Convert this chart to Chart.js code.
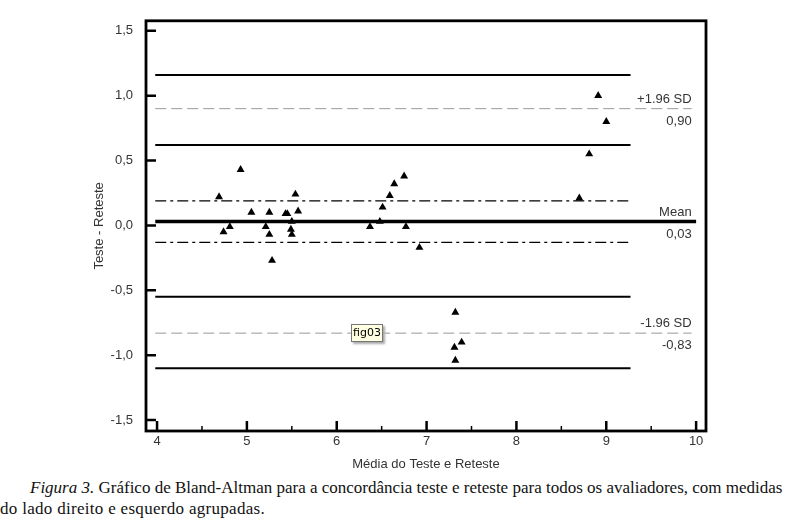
<!DOCTYPE html>
<html>
<head>
<meta charset="utf-8">
<script src="https://cdn.jsdelivr.net/npm/chart.js@4"></script>
<style>
  body { margin: 0; background: #fff; width: 795px; height: 523px; overflow: hidden; position: relative; }
  #wrap { position: absolute; left: 0; top: 0; width: 795px; height: 476px; }
  #caption {
    position: absolute; left: 0; top: 477px; width: 795px;
    font-family: "Liberation Serif", "DejaVu Serif", serif; font-size: 17px; line-height: 21px;
    color: #111; white-space: nowrap;
  }
  #caption .l1 { padding-left: 30px; }
  #caption .l2 { letter-spacing: 0.3px; }
  #tip {
    position: absolute; left: 351px; top: 324px; width: 30px; height: 16px;
    background: #ffffe1; border: 1px solid #767676; box-shadow: 2px 2px 2px #aaa;
    font-family: "DejaVu Sans", sans-serif; font-size: 11px; line-height: 16px; text-align: center; color: #000;
  }
</style>
</head>
<body>
<div id="wrap"><canvas id="baChart"></canvas></div>
<div id="tip">fig03</div>
<div id="caption">
  <div class="l1"><i>Figura 3.</i> Gráfico de Bland-Altman para a concordância teste e reteste para todos os avaliadores, com medidas</div>
  <div class="l2">do lado direito e esquerdo agrupadas.</div>
</div>
<script>
// media (x) e diferenca (y) de cada par teste/reteste
const meanX = [4.69, 4.74, 4.81, 4.93, 5.05, 5.21, 5.25, 5.25, 5.28, 5.43, 5.45, 5.49, 5.50, 5.50, 5.54, 5.57,
               6.37, 6.48, 6.51, 6.59, 6.64, 6.75, 6.77, 6.92, 7.31, 7.32, 7.32, 7.39, 8.70, 8.81, 8.91, 9.00];
const diffY = [0.22, -0.05, -0.01, 0.43, 0.10, -0.01, 0.10, -0.07, -0.27, 0.09, 0.09, -0.03, 0.03, -0.07, 0.24, 0.11,
               -0.01, 0.03, 0.14, 0.23, 0.32, 0.38, -0.01, -0.17, -0.94, -0.67, -1.04, -0.90, 0.21, 0.55, 1.00, 0.80];

// linhas de referencia
const meanDiff = 0.03;
const limitsSD = [0.90, -0.83];          // +1.96 SD, -1.96 SD
const meanCI = [0.19, -0.13];            // IC da media
const limitCI = [1.16, 0.62, -0.55, -1.10]; // IC dos limites
const lineX = [3.98, 9.27];              // extensao das linhas de IC
const meanLineX = [3.98, 10.0];
const sdLineX = [3.98, 9.95];

const xTicks = [4, 5, 6, 7, 8, 9, 10];
const xMinor = [4.5, 5.5, 6.5, 7.5, 8.5, 9.5];
const yTicks = [-1.5, -1.0, -0.5, 0.0, 0.5, 1.0, 1.5];

const fmt = v => v.toFixed(1).replace('.', ',');
const hline = (xs, y) => xs.map(x => ({ x: x, y: y }));

const datasets = [];
limitCI.forEach(y => datasets.push({
  type: 'line', data: hline(lineX, y), borderColor: '#000', borderWidth: 2, pointRadius: 0
}));
meanCI.forEach(y => datasets.push({
  type: 'line', data: hline(lineX, y), borderColor: '#000', borderWidth: 1.2, borderDash: [11, 4, 3, 4], pointRadius: 0
}));
limitsSD.forEach(y => datasets.push({
  type: 'line', data: hline(sdLineX, y), borderColor: '#999', borderWidth: 1, borderDash: [11, 5], pointRadius: 0
}));
datasets.push({
  type: 'line', data: hline(meanLineX, meanDiff), borderColor: '#000', borderWidth: 3.5, pointRadius: 0
});
datasets.push({
  type: 'scatter',
  data: meanX.map((x, i) => ({ x: x, y: diffY[i] })),
  pointStyle: 'triangle', pointRadius: 4.6, backgroundColor: '#000', borderColor: '#000', borderWidth: 0
});

// moldura, marcas internas dos eixos e rotulos das linhas
const framePlugin = {
  id: 'frame',
  afterDatasetsDraw(chart) {
    const { ctx, chartArea: a, scales: { x, y } } = chart;
    ctx.save();
    ctx.strokeStyle = '#000';
    ctx.lineWidth = 2.8;
    ctx.strokeRect(a.left, a.top, a.right - a.left, a.bottom - a.top);
    ctx.lineWidth = 2.5;
    ctx.beginPath();
    yTicks.forEach(v => { const p = y.getPixelForValue(v); ctx.moveTo(a.left, p); ctx.lineTo(a.left + 10, p); });
    xTicks.forEach(v => { const p = x.getPixelForValue(v); ctx.moveTo(p, a.bottom); ctx.lineTo(p, a.bottom - 10); });
    ctx.stroke();
    ctx.lineWidth = 1.5;
    ctx.beginPath();
    xMinor.forEach(v => { const p = x.getPixelForValue(v); ctx.moveTo(p, a.bottom); ctx.lineTo(p, a.bottom - 5); });
    ctx.stroke();

    ctx.fillStyle = '#333';
    ctx.font = '13px "Liberation Sans", Arial, sans-serif';
    ctx.textAlign = 'right';
    const tx = x.getPixelForValue(sdLineX[1]);
    const pairs = [['+1.96 SD', limitsSD[0]], ['Mean', meanDiff], ['-1.96 SD', limitsSD[1]]];
    pairs.forEach(([name, v]) => {
      const p = y.getPixelForValue(v);
      ctx.textBaseline = 'bottom';
      ctx.fillText(name, tx, p - 3);
      ctx.textBaseline = 'top';
      ctx.fillText(v.toFixed(2).replace('.', ','), tx, p + 6);
    });
    ctx.restore();
  }
};

new Chart(document.getElementById('baChart'), {
  type: 'scatter',
  data: { datasets: datasets },
  options: {
    responsive: true,
    maintainAspectRatio: false,
    animation: false,
    layout: { padding: { left: 88, right: 89, top: 18, bottom: 0 } },
    plugins: { legend: { display: false }, tooltip: { enabled: false } },
    scales: {
      x: {
        type: 'linear', min: 3.877, max: 10.11,
        grid: { display: false, drawTicks: false }, border: { display: false },
        afterBuildTicks: s => { s.ticks = xTicks.map(v => ({ value: v })); },
        afterFit: s => { s.height = 45; },
        ticks: { padding: 3, color: '#333', font: { family: '"Liberation Sans", Arial, sans-serif', size: 13 } },
        title: { display: true, text: 'Média do Teste e Reteste', color: '#333',
                 font: { family: '"Liberation Sans", Arial, sans-serif', size: 13 } }
      },
      y: {
        type: 'linear', min: -1.584, max: 1.577,
        grid: { display: false, drawTicks: false }, border: { display: false },
        afterBuildTicks: s => { s.ticks = yTicks.map(v => ({ value: v })); },
        afterFit: s => { s.width = 58; },
        ticks: { padding: 13, color: '#333', callback: v => fmt(v),
                 font: { family: '"Liberation Sans", Arial, sans-serif', size: 13 } },
        title: { display: true, text: 'Teste - Reteste', color: '#333',
                 font: { family: '"Liberation Sans", Arial, sans-serif', size: 13 } }
      }
    }
  },
  plugins: [framePlugin]
});
</script>
</body>
</html>
